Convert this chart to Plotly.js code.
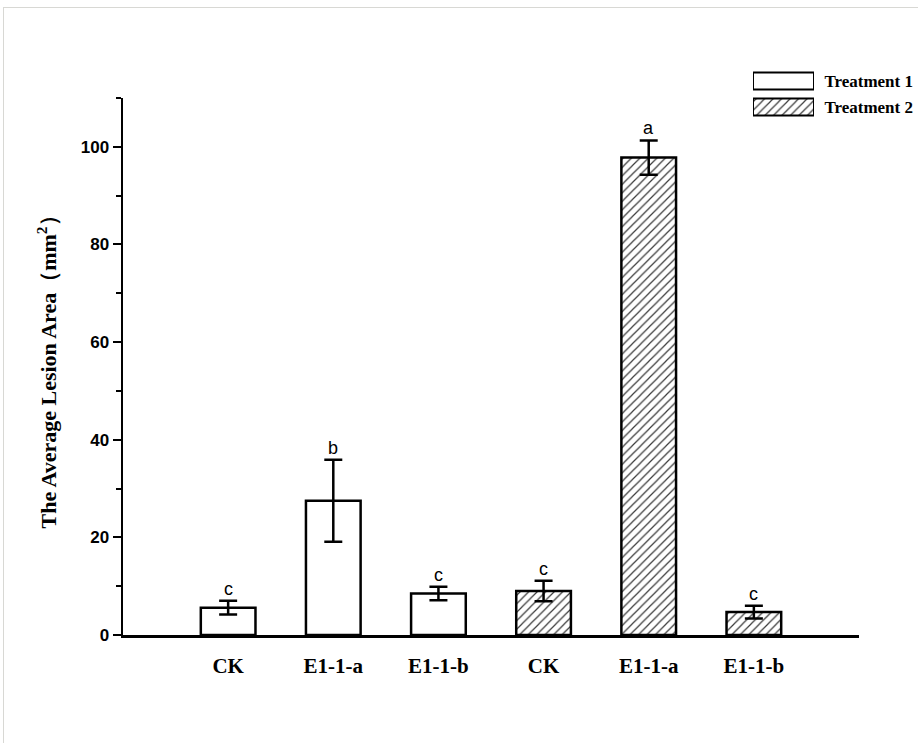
<!DOCTYPE html>
<html>
<head>
<meta charset="utf-8">
<script src="https://cdn.plot.ly/plotly-3.0.1.min.js"></script>
<style>
html,body{margin:0;padding:0;background:#fff;}
#frame{position:absolute;left:3px;top:7px;width:915px;height:736px;border-top:1px solid #d8d8d4;border-left:1px solid #d8d8d4;pointer-events:none;z-index:5;}
#chart{width:918px;height:743px;}
</style>
</head>
<body>
<div id="frame"></div>
<div id="chart"></div>
<script>
// ---- data ----
const categories = ["CK", "E1-1-a", "E1-1-b", "CK", "E1-1-a", "E1-1-b"];
const seriesNames = ["Treatment 1", "Treatment 2"];
const t1Pos = [0, 1, 2];
const t2Pos = [3, 4, 5];
const t1Values = [5.6, 27.5, 8.5];
const t1Errors = [1.4, 8.4, 1.4];
const t2Values = [9.0, 97.8, 4.7];
const t2Errors = [2.1, 3.5, 1.3];
const t1Letters = ["c", "b", "c"];
const t2Letters = ["c", "a", "c"];

const barStyle = {
  color: "#ffffff",
  line: {color: "#000000", width: 2.5}
};
const hatch = {shape: "/", fgcolor: "#3a3a3a", bgcolor: "#ffffff", size: 6, solidity: 0.2};
const errStyle = {type: "data", visible: true, color: "#000", thickness: 2.5, width: 9};

const traces = [
  {
    type: "bar", name: seriesNames[0], x: t1Pos, y: t1Values, width: 0.52,
    marker: Object.assign({}, barStyle),
    error_y: Object.assign({array: t1Errors}, errStyle),
    showlegend: false, hoverinfo: "skip"
  },
  {
    type: "bar", name: seriesNames[1], x: t2Pos, y: t2Values, width: 0.52,
    marker: Object.assign({pattern: hatch}, barStyle),
    error_y: Object.assign({array: t2Errors}, errStyle),
    showlegend: false, hoverinfo: "skip"
  },
  // legend swatches
  {
    type: "bar", orientation: "h", x: [1, 1], y: seriesNames, width: 0.66,
    xaxis: "x2", yaxis: "y2",
    marker: {color: "#fff", line: {color: "#000", width: 2}, pattern: {shape: ["", "/"], fgcolor: "#3a3a3a", bgcolor: "#fff", size: 6, solidity: 0.2}},
    showlegend: false, hoverinfo: "skip"
  }
];

const annotations = [];
t1Pos.forEach((p, i) => annotations.push({x: p, y: t1Values[i] + t1Errors[i], text: t1Letters[i]}));
t2Pos.forEach((p, i) => annotations.push({x: p, y: t2Values[i] + t2Errors[i], text: t2Letters[i]}));
annotations.forEach(a => {
  a.xref = "x"; a.yref = "y"; a.showarrow = false; a.yanchor = "bottom"; a.yshift = 0;
  a.font = {family: "Liberation Sans, Arial, sans-serif", size: 18, color: "#000"};
});

// main plot: x 123..859, y 98..635 ; paper plot region extended up to y=60 for the legend
const W = 918, H = 743, L = 123, R = 59, T = 60, B = 108;
const pw = W - L - R, ph = H - T - B;
const yTopMain = 98, yBase = 635;
const mainTop = (yBase - yTopMain) / ph;
const lx0 = (753 - L) / pw, lx1 = (814 - L) / pw;
const ly0 = (yBase - 120) / ph, ly1 = (yBase - 68) / ph;

const layout = {
  width: W, height: H,
  margin: {l: L, r: R, t: T, b: B},
  paper_bgcolor: "#fff", plot_bgcolor: "rgba(0,0,0,0)",
  showlegend: false,
  bargap: 0,
  xaxis: {
    range: [-1, 6], tickvals: [0, 1, 2, 3, 4, 5], ticktext: categories,
    showline: true, linecolor: "#000", linewidth: 2.5, showgrid: false, zeroline: false,
    ticks: "outside", ticklen: 10, tickcolor: "rgba(0,0,0,0)",
    tickfont: {family: "Liberation Serif, Times New Roman, serif", size: 21, color: "#000", weight: "bold"},
    fixedrange: true
  },
  yaxis: {
    domain: [0, mainTop],
    range: [0, 110], tickvals: [0, 20, 40, 60, 80, 100],
    showline: true, linecolor: "#000", linewidth: 2.5, showgrid: false, zeroline: false,
    ticks: "outside", ticklen: 8, tickwidth: 2, tickcolor: "#000",
    minor: {tickvals: [10, 30, 50, 70, 90, 110], ticks: "outside", ticklen: 5, tickwidth: 2, tickcolor: "#000"},
    tickfont: {family: "Liberation Sans, Arial, sans-serif", size: 17, color: "#000", weight: "bold"},
    title: {text: "The Average Lesion Area（mm<sup>2</sup>）", standoff: 18,
      font: {family: "Liberation Serif, Times New Roman, serif", size: 22, color: "#000", weight: "bold"}},
    fixedrange: true
  },
  xaxis2: {domain: [lx0, lx1], anchor: "y2", range: [0, 1], visible: false, fixedrange: true},
  yaxis2: {
    domain: [ly0, ly1], anchor: "x2", side: "right", type: "category", autorange: "reversed",
    showline: false, showgrid: false, zeroline: false,
    ticks: "outside", ticklen: 6, tickcolor: "rgba(0,0,0,0)",
    tickfont: {family: "Liberation Serif, Times New Roman, serif", size: 17, color: "#000", weight: "bold"},
    fixedrange: true
  },
  annotations: annotations
};

Plotly.newPlot("chart", traces, layout, {displayModeBar: false, staticPlot: true});
</script>
</body>
</html>
